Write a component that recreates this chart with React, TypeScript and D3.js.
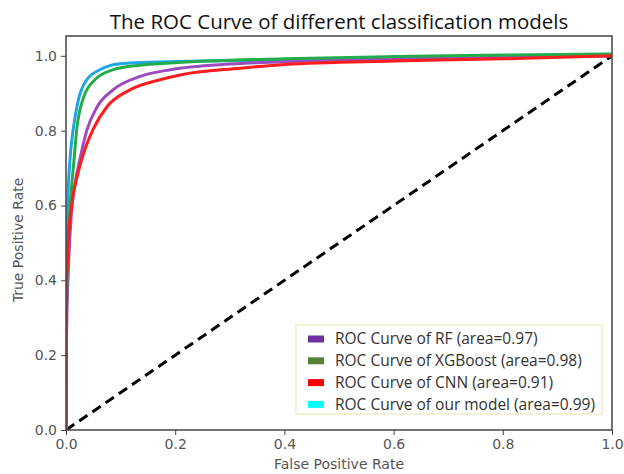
import React, { useRef, useEffect } from 'react';
import * as d3 from 'd3';

const fprRF = [0, 0.001, 0.005, 0.01, 0.018, 0.0257, 0.038, 0.0563, 0.087, 0.136, 0.191, 0.3, 0.4, 0.6, 0.8, 1.0];
const tprRF = [0, 0.25, 0.45, 0.58, 0.67, 0.725, 0.8, 0.862, 0.91, 0.945, 0.963, 0.978, 0.984, 0.991, 0.996, 1.0];

const fprXGB = [0, 0.001, 0.004, 0.008, 0.0147, 0.0196, 0.0306, 0.053, 0.087, 0.136, 0.191, 0.4, 0.6, 0.8, 1.0];
const tprXGB = [0, 0.34, 0.5, 0.607, 0.722, 0.802, 0.882, 0.936, 0.963, 0.975, 0.981, 0.992, 0.998, 1.002, 1.005];

const fprCNN = [0, 0.001, 0.0024, 0.004, 0.0104, 0.0226, 0.037, 0.05, 0.075, 0.117, 0.172, 0.209, 0.319, 0.4, 0.6, 0.8, 1.0];
const tprCNN = [0, 0.4, 0.437, 0.5, 0.6, 0.69, 0.76, 0.805, 0.864, 0.909, 0.936, 0.949, 0.967, 0.977, 0.986, 0.992, 1.0];

const fprOurs = [0, 0.001, 0.003, 0.0073, 0.013, 0.0226, 0.038, 0.062, 0.099, 0.154, 0.25, 0.4, 0.6, 0.8, 1.0];
const tprOurs = [0, 0.45, 0.6, 0.722, 0.802, 0.882, 0.936, 0.963, 0.979, 0.983, 0.986, 0.988, 0.992, 0.996, 1.0];

const legendLabels = [
  'ROC Curve of RF (area=0.97)',
  'ROC Curve of XGBoost (area=0.98)',
  'ROC Curve of CNN (area=0.91)',
  'ROC Curve of our model (area=0.99)',
];
const legendColors = ['#7030a0', '#548235', '#ff0000', '#00ffff'];

const ticks = [0, 0.2, 0.4, 0.6, 0.8, 1.0];

const App = () => {
  const svgRef = useRef<SVGSVGElement>(null);

  useEffect(() => {
    if (!svgRef.current) return;
    const svg = d3.select(svgRef.current);
    svg.selectAll('*').remove();

    const left = 66, right = 612, top = 36, bottom = 430;
    const x = d3.scaleLinear().domain([0, 1]).range([left, right]);
    const y = d3.scaleLinear().domain([0, 1.053]).range([bottom, top]);

    const series = [
      { fpr: fprOurs, tpr: tprOurs, color: '#1ea5e3' },
      { fpr: fprRF, tpr: tprRF, color: '#9b4dbf' },
      { fpr: fprXGB, tpr: tprXGB, color: '#22ad4a' },
      { fpr: fprCNN, tpr: tprCNN, color: '#ff1c1c' },
    ];

    const line = d3.line<[number, number]>()
      .x(d => x(d[0]))
      .y(d => y(d[1]))
      .curve(d3.curveMonotoneX);

    const plot = svg.append('g');
    plot.append('defs').append('clipPath').attr('id', 'clip')
      .append('rect').attr('x', left).attr('y', top)
      .attr('width', right - left).attr('height', bottom - top);

    const curves = plot.append('g').attr('clip-path', 'url(#clip)');

    curves.append('line')
      .attr('x1', x(0)).attr('y1', y(0))
      .attr('x2', x(1)).attr('y2', y(1))
      .attr('stroke', '#000')
      .attr('stroke-width', 3)
      .attr('stroke-dasharray', '10,6');

    series.forEach(s => {
      curves.append('path')
        .datum(s.fpr.map((f, i) => [f, s.tpr[i]] as [number, number]))
        .attr('d', line)
        .attr('fill', 'none')
        .attr('stroke', s.color)
        .attr('stroke-width', 3);
    });

    // frame
    plot.append('rect')
      .attr('x', left).attr('y', top)
      .attr('width', right - left).attr('height', bottom - top)
      .attr('fill', 'none')
      .attr('stroke', '#444')
      .attr('stroke-width', 1.5);

    const xAxis = d3.axisBottom(x).tickValues(ticks).tickFormat(d3.format('.1f')).tickSize(5).tickPadding(4);
    const yAxis = d3.axisLeft(y).tickValues(ticks).tickFormat(d3.format('.1f')).tickSize(5).tickPadding(4);

    const gx = svg.append('g').attr('transform', `translate(0,${bottom})`).call(xAxis);
    const gy = svg.append('g').attr('transform', `translate(${left},0)`).call(yAxis);
    [gx, gy].forEach(g => {
      g.select('.domain').remove();
      g.selectAll('line').attr('stroke', '#444').attr('stroke-width', 1);
      g.selectAll('text')
        .attr('fill', '#555')
        .style('font-family', 'DejaVu Sans')
        .style('font-size', '14px');
    });

    svg.append('text')
      .attr('x', 339).attr('y', 469)
      .attr('text-anchor', 'middle')
      .attr('fill', '#555')
      .style('font-family', 'DejaVu Sans')
      .style('font-size', '14px')
      .text('False Positive Rate');

    svg.append('text')
      .attr('transform', 'translate(23,240) rotate(-90)')
      .attr('text-anchor', 'middle')
      .attr('fill', '#555')
      .style('font-family', 'DejaVu Sans')
      .style('font-size', '14px')
      .text('True Positive Rate');

    svg.append('text')
      .attr('x', 339).attr('y', 29)
      .attr('text-anchor', 'middle')
      .attr('fill', '#111')
      .style('font-family', 'Open Sans')
      .style('font-size', '20.5px')
      .text('The ROC Curve of different classification models');

    // legend
    const lg = svg.append('g');
    lg.append('rect')
      .attr('x', 296).attr('y', 325)
      .attr('width', 306).attr('height', 89)
      .attr('fill', '#fff')
      .attr('stroke', '#f3ecc8')
      .attr('stroke-width', 1.5);
    legendLabels.forEach((label, i) => {
      const cy = 339 + i * 21.8;
      lg.append('rect')
        .attr('x', 308).attr('y', cy - 3.5)
        .attr('width', 16).attr('height', 7)
        .attr('fill', legendColors[i]);
      lg.append('text')
        .attr('x', 335).attr('y', cy)
        .attr('dy', '0.35em')
        .attr('fill', '#333')
        .style('font-family', 'Open Sans')
        .style('font-size', '15.5px')
        .text(label);
    });
  }, []);

  return (
    <div>
      <style>{`body { margin: 0; }`}</style>
      <svg ref={svgRef} width="624" height="474" style={{ display: 'block', background: '#fff' }} />
    </div>
  );
};

export default App;
